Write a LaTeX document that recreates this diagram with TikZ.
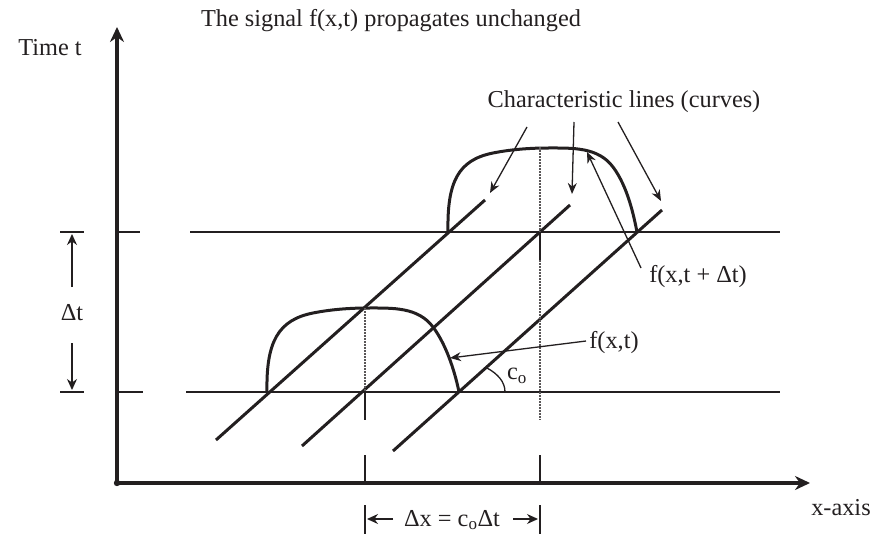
\documentclass[tikz,border=0pt]{standalone}
\usepackage{fontspec}
\setmainfont{Liberation Serif}
\usetikzlibrary{arrows.meta,calc}
\definecolor{ink}{HTML}{231F20}
\begin{document}
\begin{tikzpicture}[x=1pt,y=-1pt,
  every node/.style={font=\fontsize{24.3}{29}\selectfont, text=ink, inner sep=0pt},
  axis/.style={draw=ink, line width=4pt, line join=round},
  guide/.style={draw=ink, line width=1.8pt},
  charline/.style={draw=ink, line width=3pt},
  pulse/.style={draw=ink, line width=3pt},
  pointer/.style={draw=ink, line width=1.3pt, -{Stealth[length=11pt,width=9pt]}},
  dimarrow/.style={draw=ink, line width=1.3pt, -{Stealth[length=11pt,width=10pt]}},
  dotline/.style={draw=ink!75, line width=1.2pt, dash pattern=on 1.5pt off 1.5pt},
]
\useasboundingbox (0,0) rectangle (881,535);

% axes
\coordinate (O) at (117,483);
\coordinate (ytop) at (117,27);
\coordinate (xend) at (810,483);
\draw[axis, {Stealth[length=15pt,width=14pt]}-{Stealth[length=15pt,width=14pt]}] (ytop) -- (O) -- (xend);
\fill[ink] (O) circle (3.2pt);

% time levels
\draw[guide] (117,232) -- (140,232);
\draw[guide] (190,232) -- (780,232);
\draw[guide] (117,392) -- (143,392);
\draw[guide] (186,392) -- (780,392);

% Delta t dimension
\draw[guide] (60,232) -- (84,232);
\draw[guide] (60,392) -- (84,392);
\node (dtlab) at (72,313) {Δt};
\coordinate (dtup) at (72,234);
\coordinate (dtdown) at (72,390);
\draw[dimarrow] (72,287) -- (dtup);
\draw[dimarrow] (72,343) -- (dtdown);

% characteristic lines
\draw[charline] (216,440) -- (485,200);
\draw[charline] (302,446) -- (570,205);
\draw[charline] (393,451) -- (662,210);

% pulses
\draw[pulse] (267,392) .. controls (266,342) and (278,320) .. (313,313)
  .. controls (333,309) and (353,308) .. (368,308)
  .. controls (393,308) and (418,307) .. (433,327)
  .. controls (448,347) and (456,377) .. (459,392);
\begin{scope}[shift={(180,-160)}]
\draw[pulse] (268,392) .. controls (267,342) and (278,320) .. (313,313)
  .. controls (333,309) and (353,308) .. (368,308)
  .. controls (393,308) and (418,307) .. (433,327)
  .. controls (448,347) and (454,377) .. (457,392);
\end{scope}

% vertical guides
\draw[dotline] (365,308) -- (365,392);
\draw[guide] (365,392) -- (365,420);
\draw[guide] (365,455) -- (365,483);
\draw[dotline] (540,147) -- (540,232);
\draw[guide] (540,232) -- (540,260);
\draw[dotline] (540,260) -- (540,420);
\draw[guide] (540,455) -- (540,483);

% Delta x dimension
\draw[guide] (365,505) -- (365,534);
\draw[guide] (540,505) -- (540,534);
\node (dx) at (452,520) {Δx = c\textsubscript{o}Δt};
\coordinate (dxl) at (367,519);
\coordinate (dxr) at (538,519);
\draw[dimarrow] (393,519) -- (dxl);
\draw[dimarrow] (513,519) -- (dxr);

% angle
\draw[draw=ink, line width=1.3pt] (487,368) .. controls (498,374) and (505,382) .. (505,392);
\node (co) at (517,376) {c\textsubscript{o}};

% labels
\node (title) at (391,21) {The signal f(x,t) propagates unchanged};
\node (tlabel) at (50,48) {Time t};
\node (xlabel) at (841,508) {x-axis};
\node (charlab) at (624,102) {Characteristic lines (curves)};
\node (fdt) at (698,277) {f(x,t + Δt)};
\node (ft) at (614,343) {f(x,t)};

% pointers
\coordinate (a1s) at (527,127); \coordinate (a1e) at (490,193);
\coordinate (a2s) at (574,122); \coordinate (a2e) at (572,194);
\coordinate (a3s) at (618,122); \coordinate (a3e) at (661,201);
\draw[pointer] (a1s) -- (a1e);
\draw[pointer] (a2s) -- (a2e);
\draw[pointer] (a3s) -- (a3e);
\coordinate (fts) at (586,341); \coordinate (fte) at (450,358);
\draw[pointer] (fts) -- (fte);
\coordinate (fdts) at (641,268); \coordinate (fdte) at (587,152);
\draw[pointer] (fdts) -- (fdte);
\end{tikzpicture}
\end{document}
